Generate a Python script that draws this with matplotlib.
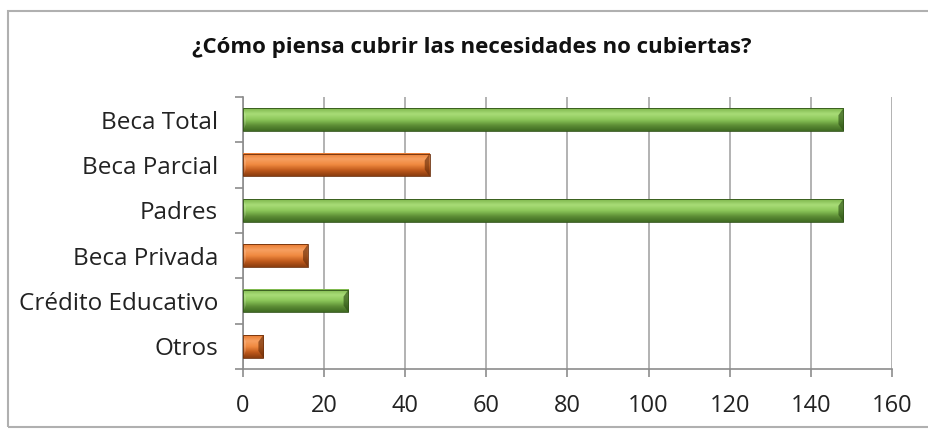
import numpy as np
import matplotlib.pyplot as plt
from matplotlib.patches import Rectangle, Polygon
from matplotlib.colors import LinearSegmentedColormap

categorias = ['Beca Total', 'Beca Parcial', 'Padres', 'Beca Privada', 'Crédito Educativo', 'Otros']
valores = [148, 46, 148, 16, 26, 5]
colores = ['verde', 'naranja', 'verde', 'naranja', 'verde', 'naranja']
ticks_x = [0, 20, 40, 60, 80, 100, 120, 140, 160]
titulo = '¿Cómo piensa cubrir las necesidades no cubiertas?'

# degradados tipo bisel (de abajo hacia arriba)
paletas = {
    'verde': LinearSegmentedColormap.from_list('v', ['#3f6a22', '#5e8f36', '#8cc75a', '#a9dd78', '#7db64c']),
    'naranja': LinearSegmentedColormap.from_list('n', ['#8a3d10', '#c05a1c', '#f08a40', '#f7a061', '#e87a30']),
}
oscuro = {'verde': '#2f5218', 'naranja': '#6b2e0a'}

fig = plt.figure(figsize=(9.29, 4.30), dpi=100)
ax = fig.add_axes([243 / 929, 1 - 369 / 430, 649 / 929, 272 / 430])

# marco exterior del gráfico
fig.patches.append(Rectangle((8 / 929, 3 / 430), 1.2, 416 / 430, transform=fig.transFigure,
                             fill=False, edgecolor='#b0b0b0', linewidth=1.5, zorder=0))

n = len(categorias)
y = np.arange(n)[::-1]
alto = 0.5
grad = np.linspace(0, 1, 64).reshape(-1, 1)

for yi, v, c in zip(y, valores, colores):
    y0, y1 = yi - alto / 2, yi + alto / 2
    ax.imshow(grad, cmap=paletas[c], extent=(0, v, y0, y1), origin='lower',
              aspect='auto', zorder=3, interpolation='bicubic')
    # puntas biseladas
    b = min(alto * 0.6 * 4.0, v * 0.3)
    ax.add_patch(Polygon([(v, y0), (v, y1), (v - b, y1 - alto * 0.3), (v - b, y0 + alto * 0.3)],
                         closed=True, facecolor=oscuro[c], alpha=0.65, edgecolor='none', zorder=4))
    ax.add_patch(Polygon([(0, y0), (0, y1), (b * 0.6, y1 - alto * 0.3), (b * 0.6, y0 + alto * 0.3)],
                         closed=True, facecolor='white', alpha=0.15, edgecolor='none', zorder=4))
    ax.add_patch(Rectangle((0, y0), v, alto, fill=False, edgecolor=oscuro[c], linewidth=0.6, zorder=5))

ax.set_xlim(0, 160)
ax.set_ylim(-0.5, n - 0.5)
ax.set_xticks(ticks_x)
ax.set_xticklabels([str(t) for t in ticks_x], fontsize=17, family='Open Sans', color='#222222')
ax.grid(axis='x', color='#a6a6a6', linewidth=1.2, zorder=1)

ax.set_yticks(y)
ax.set_yticklabels(categorias, fontsize=17.5, family='Open Sans', color='#222222')
ax.tick_params(axis='y', length=0, pad=18)
ax.set_yticks(np.arange(-0.5, n, 1), minor=True)
ax.tick_params(axis='y', which='minor', length=6, color='#8c8c8c', width=1.2)
ax.tick_params(axis='x', length=6, color='#8c8c8c', width=1.2, pad=12)

for s in ['top', 'right']:
    ax.spines[s].set_visible(False)
ax.spines['left'].set_color('#8c8c8c')
ax.spines['bottom'].set_color('#8c8c8c')
ax.spines['left'].set_linewidth(1.2)
ax.spines['bottom'].set_linewidth(1.2)

fig.text(472 / 929, 1 - 47 / 430, titulo, ha='center', va='center', fontsize=16,
         fontweight='bold', family='Open Sans', color='#111111')

fig.savefig('out.png', dpi=100)
